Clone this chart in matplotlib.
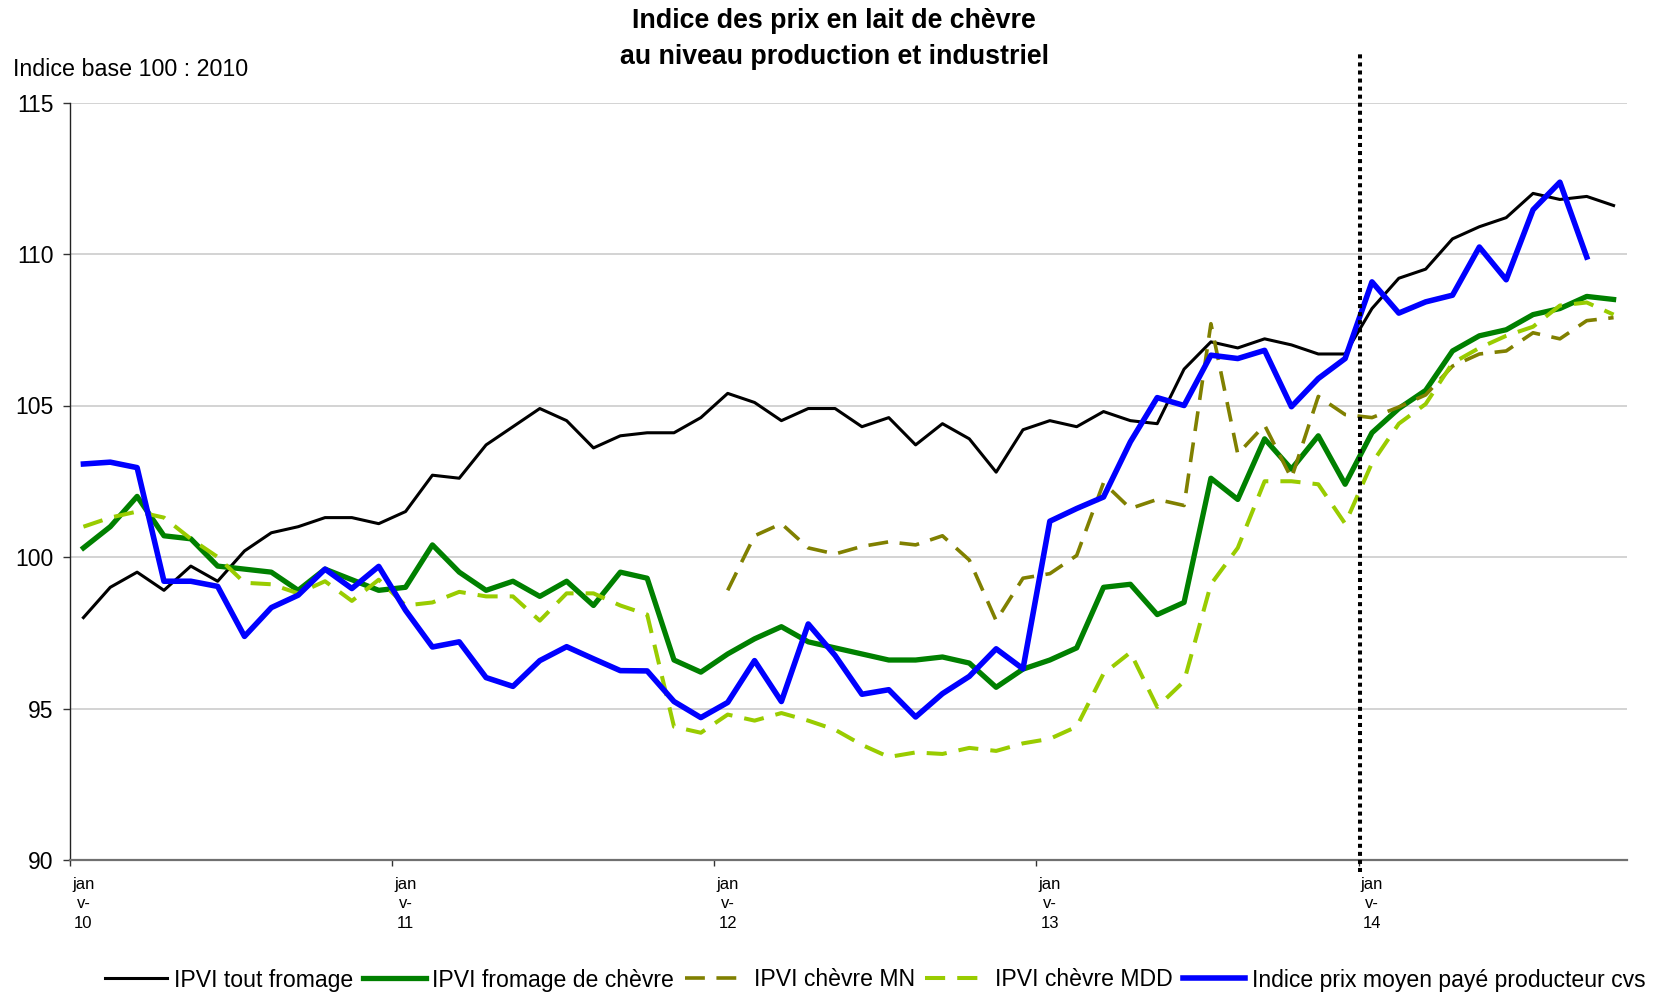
import numpy as np
import matplotlib
matplotlib.use("Agg")
import matplotlib.pyplot as plt
from matplotlib.ticker import FixedLocator

plt.rcParams['font.family'] = ['Liberation Sans', 'DejaVu Sans']

# ---------------- data ----------------
months = list(range(58))  # janv-10 .. oct-14
tick_pos = [0, 12, 24, 36, 48]
tick_labels = ["jan\nv-\n10", "jan\nv-\n11", "jan\nv-\n12", "jan\nv-\n13", "jan\nv-\n14"]

ipvi_tout = [98.0, 99.0, 99.5, 98.9, 99.7, 99.2, 100.2, 100.8, 101.0, 101.3, 101.3, 101.1,
             101.5, 102.7, 102.6, 103.7, 104.3, 104.9, 104.5, 103.6, 104.0, 104.1, 104.1, 104.6,
             105.4, 105.1, 104.5, 104.9, 104.9, 104.3, 104.6, 103.7, 104.4, 103.9, 102.8, 104.2,
             104.5, 104.3, 104.8, 104.5, 104.4, 106.2, 107.1, 106.9, 107.2, 107.0, 106.7, 106.7,
             108.2, 109.2, 109.5, 110.5, 110.9, 111.2, 112.0, 111.8, 111.9, 111.6]

ipvi_chevre = [100.3, 101.0, 102.0, 100.7, 100.6, 99.7, 99.6, 99.5, 98.9, 99.6, 99.25, 98.9,
               99.0, 100.4, 99.5, 98.9, 99.2, 98.7, 99.2, 98.4, 99.5, 99.3, 96.6, 96.2,
               96.8, 97.3, 97.7, 97.2, 97.0, 96.8, 96.6, 96.6, 96.7, 96.5, 95.7, 96.3,
               96.6, 97.0, 99.0, 99.1, 98.1, 98.5, 102.6, 101.9, 103.9, 102.9, 104.0, 102.4,
               104.1, 104.9, 105.5, 106.8, 107.3, 107.5, 108.0, 108.2, 108.6, 108.5]

ipvi_mn = [None] * 24 + [
    98.9, 100.7, 101.1, 100.3, 100.1, 100.35, 100.5, 100.4, 100.7, 99.9, 97.9, 99.3,
    99.45, 100.05, 102.45, 101.6, 101.9, 101.7, 107.7, 103.4, 104.35, 102.6, 105.3, 104.7,
    104.6, 104.95, 105.35, 106.3, 106.7, 106.8, 107.4, 107.2, 107.8, 107.9]

ipvi_mdd = [101.0, 101.3, 101.5, 101.3, 100.6, 100.0, 99.15, 99.1, 98.8, 99.2, 98.55, 99.25,
            98.4, 98.5, 98.85, 98.7, 98.7, 97.9, 98.8, 98.8, 98.4, 98.1, 94.4, 94.2,
            94.8, 94.6, 94.85, 94.6, 94.3, 93.8, 93.4, 93.55, 93.5, 93.7, 93.6, 93.85,
            94.0, 94.4, 96.15, 96.85, 95.05, 95.9, 99.1, 100.3, 102.5, 102.5, 102.4, 101.1,
            103.1, 104.4, 105.05, 106.4, 106.9, 107.3, 107.6, 108.3, 108.4, 108.0]

prix_producteur = [103.07, 103.13, 102.95, 99.2, 99.2, 99.03, 97.38, 98.33, 98.74, 99.6, 98.96, 99.69,
                   98.24, 97.03, 97.2, 96.02, 95.73, 96.58, 97.04, 96.64, 96.25, 96.24, 95.23, 94.7,
                   95.2, 96.58, 95.23, 97.79, 96.75, 95.47, 95.62, 94.72, 95.49, 96.06, 96.97, 96.31,
                   101.18, 101.6, 101.98, 103.8, 105.26, 105.0, 106.66, 106.55, 106.82, 104.96, 105.89, 106.55,
                   109.08, 108.05, 108.42, 108.64, 110.23, 109.15, 111.46, 112.37, 109.9, None]

labels = ["IPVI tout fromage", "IPVI fromage de chèvre", "IPVI chèvre MN",
          "IPVI chèvre MDD", "Indice prix moyen payé producteur cvs"]

def arr(v):
    return np.array([np.nan if x is None else x for x in v], dtype=float)

# ---------------- figure ----------------
fig = plt.figure(figsize=(16.57, 9.94), dpi=100)
ax = fig.add_axes([70 / 1657, 1 - 860 / 994, 1557 / 1657, (860 - 102.5) / 994])

x = np.array(months)
ax.plot(x, arr(ipvi_tout), color="black", lw=2.2, label=labels[0], zorder=3)
ax.plot(x, arr(ipvi_chevre), color="#008000", lw=3.8, label=labels[1], zorder=3)
ax.plot(x, arr(ipvi_mn), color="#808000", lw=2.6, dashes=(5.5, 3.2), label=labels[2], zorder=3)
ax.plot(x, arr(ipvi_mdd), color="#99CC00", lw=2.9, dashes=(5, 3), label=labels[3], zorder=3)
ax.plot(x, arr(prix_producteur), color="#0000FF", lw=4.0, label=labels[4], zorder=4)

# vertical dotted separator
ax.plot([47.55, 47.55], [89.6, 116.6], color="black", lw=2.9, dashes=(1, 1),
        clip_on=False, zorder=5)

ax.set_xlim(-0.5, 57.5)
ax.set_ylim(90, 115)

ax.set_yticks([90, 95, 100, 105, 110, 115])
ax.set_yticklabels(["90", "95", "100", "105", "110", "115"], fontsize=16.5)
ax.tick_params(axis="y", direction="out", length=5, width=1, pad=7, color="#333333")
ax.grid(axis="y", color="#C8C8C8", lw=1.1, zorder=1)

ax.set_xticks(tick_pos)
ax.set_xticklabels(tick_labels, fontsize=12, linespacing=1.4)
ax.tick_params(axis="x", which="major", length=0, pad=12)
ax.xaxis.set_minor_locator(FixedLocator([-0.5, 11.5, 23.5, 35.5, 47.5]))
ax.tick_params(axis="x", which="minor", direction="out", length=4, width=1, color="#333333")

for s in ["top", "right"]:
    ax.spines[s].set_visible(False)
ax.spines["left"].set_color("#222222")
ax.spines["left"].set_linewidth(1.0)
ax.spines["bottom"].set_color("#707070")
ax.spines["bottom"].set_linewidth(1.6)
ax.set_axisbelow(True)

fig.text(834 / 1657, 1 - 39 / 994, "Indice des prix en lait de chèvre\nau niveau production et industriel",
         ha="center", va="center", fontsize=19.3, fontweight="bold", linespacing=1.5)
fig.text(13 / 1657, 1 - 70 / 994, "Indice base 100 : 2010", ha="left", va="center", fontsize=16.75)

fig.legend(loc="center", bbox_to_anchor=(875 / 1657, 1 - 980 / 994), ncol=5, frameon=False,
           fontsize=16.6, handlelength=2.7, handletextpad=0.3, columnspacing=0.45,
           borderaxespad=0)

fig.savefig("out.png", dpi=100)
